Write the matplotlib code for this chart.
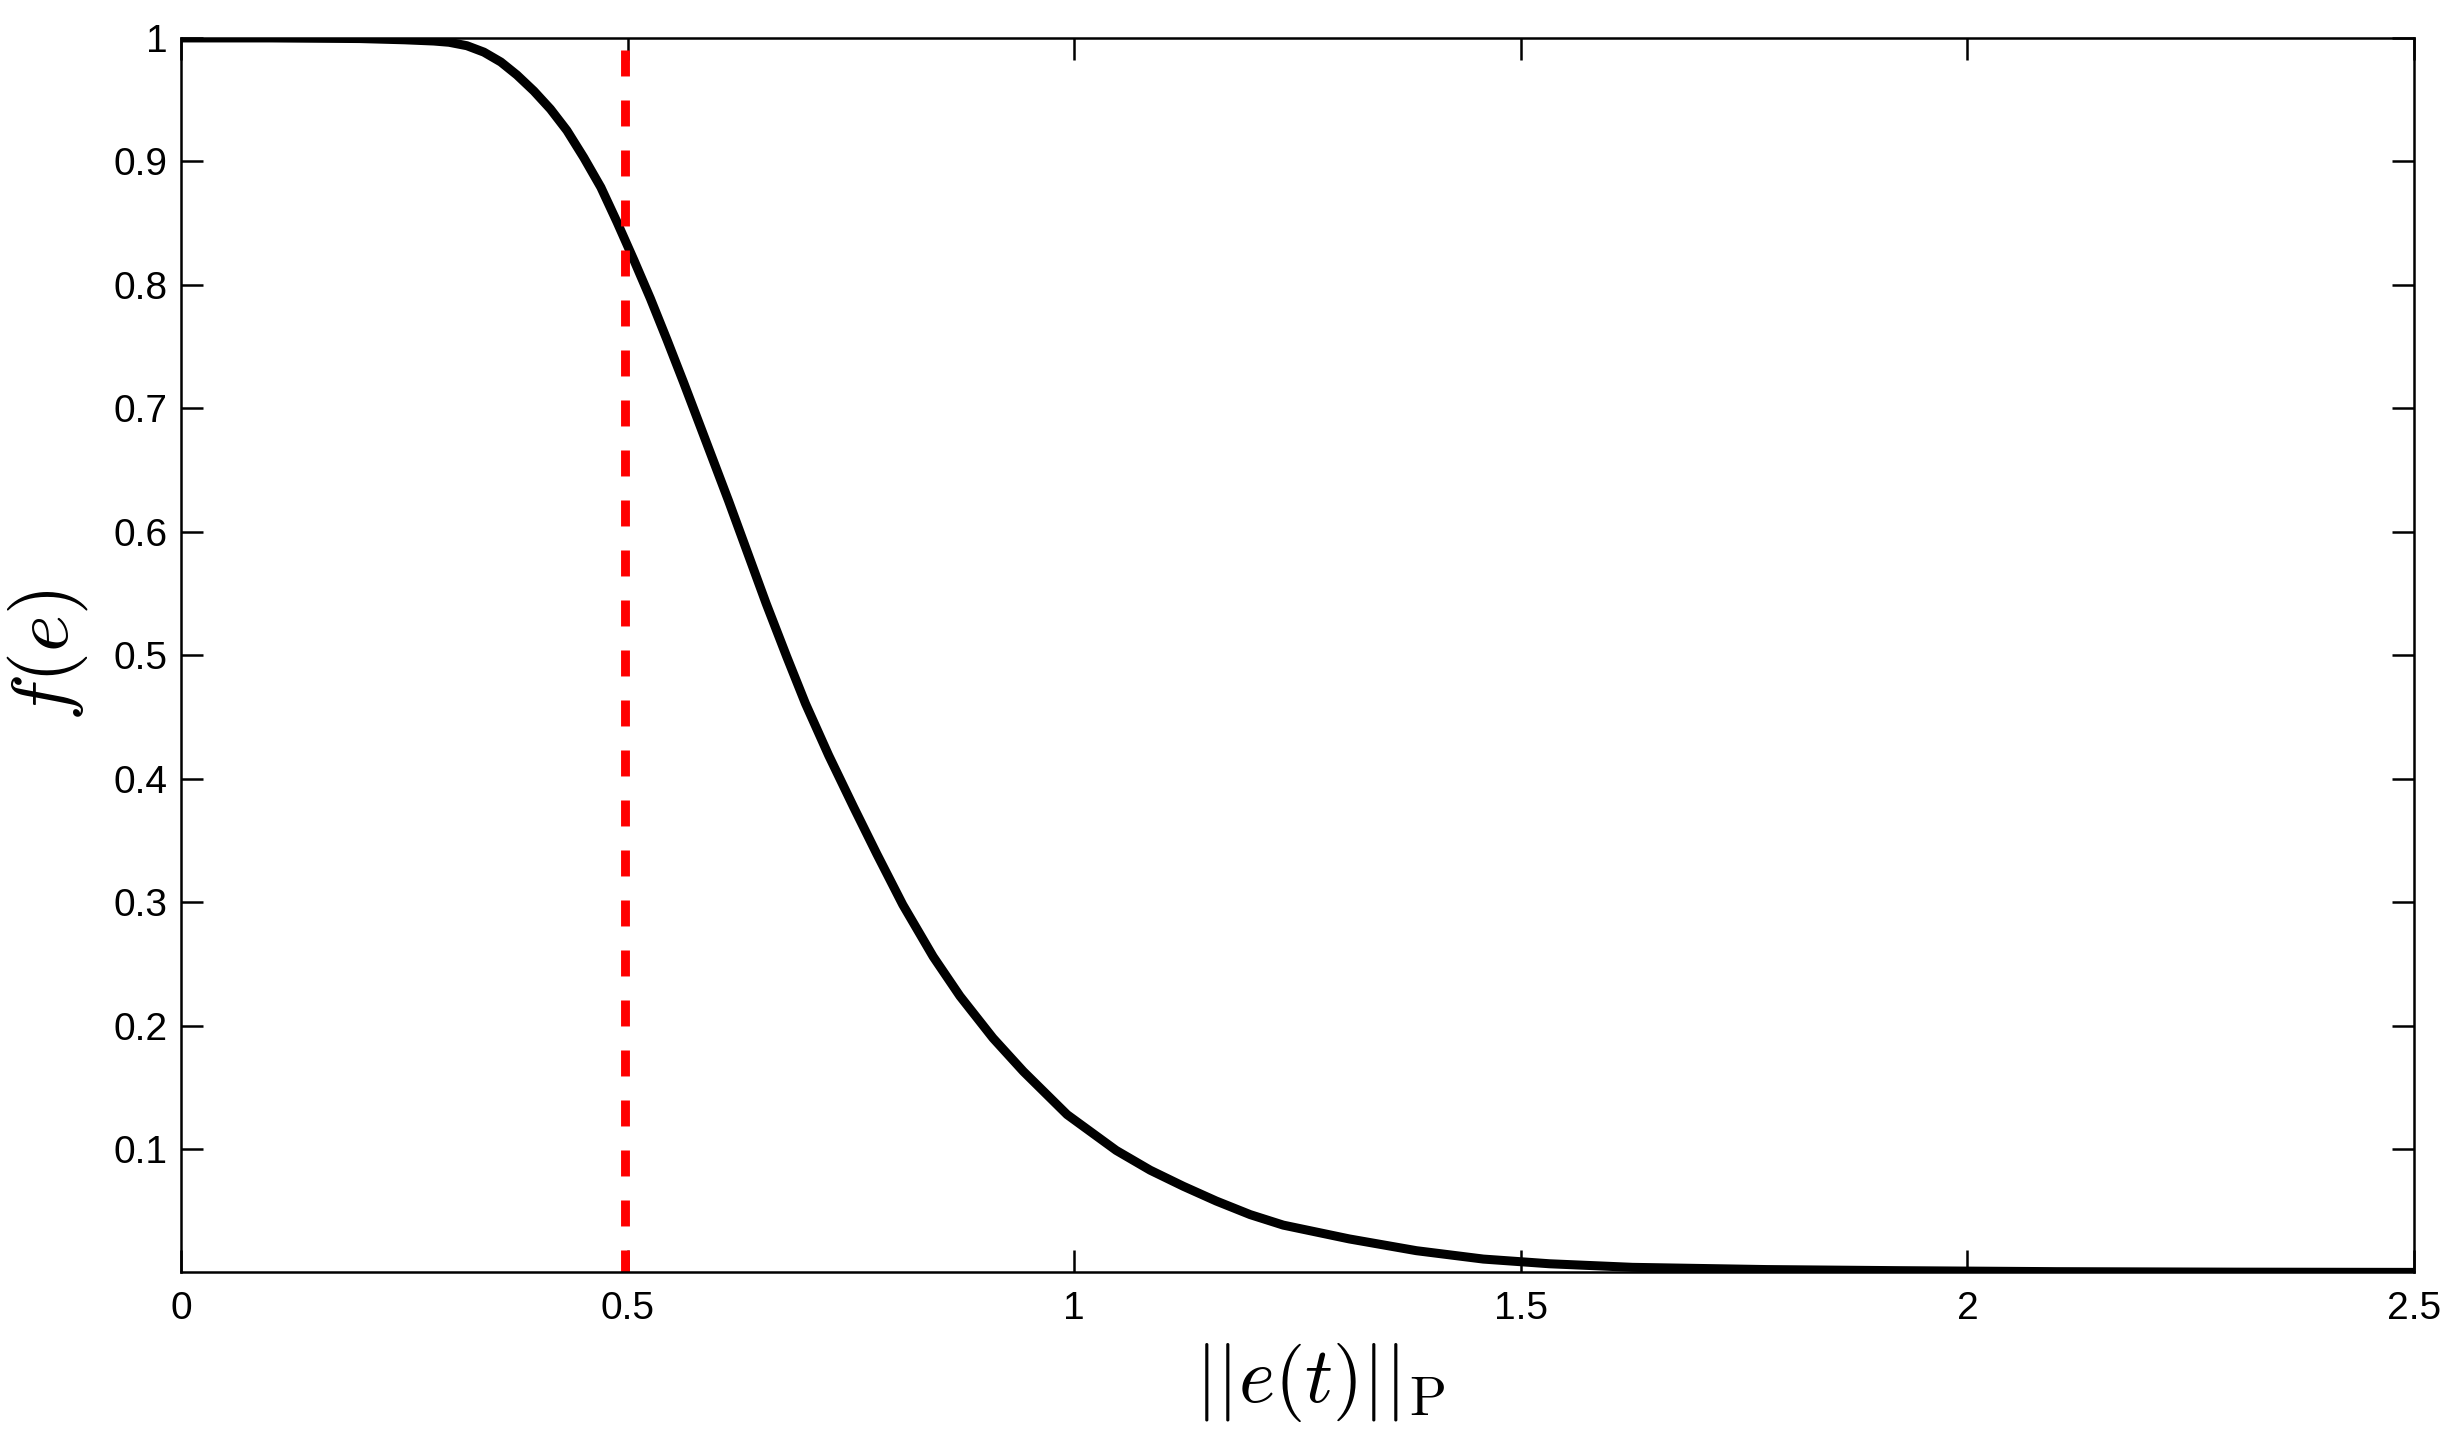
import matplotlib
matplotlib.use('Agg')
import matplotlib.pyplot as plt

plt.rcParams['font.family'] = ['Liberation Sans', 'DejaVu Sans']
plt.rcParams['mathtext.fontset'] = 'cm'
plt.rcParams['lines.scale_dashes'] = False

# values
e_norm = [0.0, 0.10, 0.20, 0.25, 0.283, 0.30, 0.320, 0.339, 0.358, 0.376, 0.395,
          0.4135, 0.432, 0.4508, 0.470, 0.488, 0.507, 0.5254, 0.544, 0.5626, 0.581,
          0.613, 0.655, 0.678, 0.699, 0.725, 0.753, 0.779, 0.808, 0.842, 0.872,
          0.909, 0.943, 0.992, 1.047, 1.085, 1.122, 1.159, 1.197, 1.234, 1.308,
          1.383, 1.458, 1.532, 1.625, 1.775, 1.924, 2.10, 2.30, 2.50]
f_e = [1.0, 1.0, 0.9995, 0.9985, 0.9975, 0.9965, 0.9937, 0.9885, 0.9805, 0.970, 0.957,
       0.9424, 0.925, 0.9032, 0.879, 0.851, 0.820, 0.789, 0.7555, 0.721, 0.686,
       0.625, 0.542, 0.499, 0.461, 0.419, 0.377, 0.339, 0.298, 0.256, 0.224,
       0.190, 0.163, 0.128, 0.099, 0.083, 0.070, 0.058, 0.047, 0.0385, 0.0273,
       0.0178, 0.0110, 0.0072, 0.0043, 0.0025, 0.0016, 0.0008, 0.0004, 0.0002]

threshold = 0.497
threshold_top = 0.99

xticks = [0, 0.5, 1, 1.5, 2, 2.5]
xticklabels = ['0', '0.5', '1', '1.5', '2', '2.5']
yticks = [0.1, 0.2, 0.3, 0.4, 0.5, 0.6, 0.7, 0.8, 0.9, 1.0]
yticklabels = ['0.1', '0.2', '0.3', '0.4', '0.5', '0.6', '0.7', '0.8', '0.9', '1']

fig = plt.figure(figsize=(24.64, 14.37), dpi=100)
ax = fig.add_axes([0.0735, 0.1148, 0.9062, 0.8588])

ax.plot(e_norm, f_e, color='black', linewidth=6.5,
        solid_joinstyle='round', solid_capstyle='round')
ax.plot([threshold, threshold], [threshold_top, 0], color='red', linewidth=6.4,
        dashes=[18.7, 17.3], dash_capstyle='butt')

ax.set_xlim(0, 2.5)
ax.set_ylim(0.0005, 1)
ax.set_xticks(xticks)
ax.set_xticklabels(xticklabels)
ax.set_yticks(yticks)
ax.set_yticklabels(yticklabels)

ax.tick_params(direction='in', length=16, width=1.8, labelsize=28,
               top=True, right=True)
ax.tick_params(axis='x', pad=14)
ax.tick_params(axis='y', pad=10)
for s in ax.spines.values():
    s.set_linewidth(1.8)

ax.set_xlabel(r'$||e(t)||_{\mathrm{P}}$', fontsize=56)
ax.set_ylabel(r'$f(e)$', fontsize=57)
ax.xaxis.set_label_coords(0.51, -0.056)
ax.yaxis.set_label_coords(-0.041, 0.5)

fig.savefig('out.png', dpi=100)
